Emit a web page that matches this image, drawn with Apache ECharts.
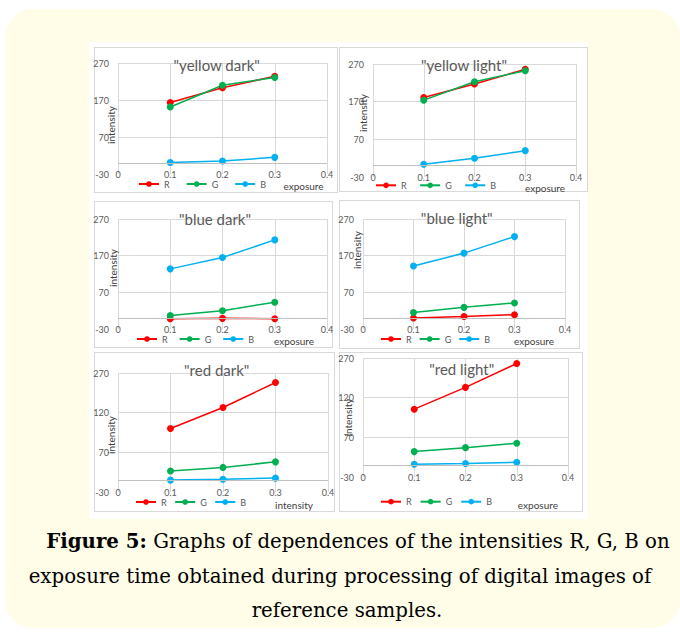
<!DOCTYPE html>
<html><head><meta charset="utf-8">
<script src="https://cdn.jsdelivr.net/npm/echarts@6/dist/echarts.min.js"></script>
<style>
html,body{margin:0;padding:0;background:#fff;width:680px;height:632px;overflow:hidden;position:relative;}
#bg{position:absolute;left:5px;top:9px;width:675px;height:619px;border-radius:28px;background:#fffce8;}
#panel{position:absolute;left:89px;top:42px;width:499px;height:477px;background:#fff;}
.box{position:absolute;border:1px solid #d9d9d9;box-sizing:border-box;}
#chart{position:absolute;left:0;top:0;width:680px;height:632px;}
.cap{position:absolute;font-family:'DejaVu Serif',serif;font-size:20px;color:#000;white-space:nowrap;transform:translate(-50%,-50%);line-height:1.2;}
.cap b{font-weight:bold;}
</style></head>
<body>
<div id="bg"></div>
<div id="panel"></div>
<div class="box" style="left:94px;top:47px;width:244px;height:146px"></div>
<div class="box" style="left:339px;top:47px;width:249px;height:145px"></div>
<div class="box" style="left:94px;top:201px;width:239px;height:147px"></div>
<div class="box" style="left:339px;top:200px;width:241px;height:149px"></div>
<div class="box" style="left:94px;top:352px;width:241px;height:160px"></div>
<div class="box" style="left:339px;top:352px;width:244px;height:160px"></div>
<div id="chart"></div>
<div class="cap" id="cap1" style="left:358px;top:542px"><b>Figure 5:</b> Graphs of dependences of the intensities R, G, B on</div>
<div class="cap" id="cap2" style="left:340px;top:577px">exposure time obtained during processing of digital images of</div>
<div class="cap" id="cap3" style="left:347px;top:611px">reference samples.</div>
<script>
// ---- data ----
const exposure = [0.1, 0.2, 0.3];
const xTickLabels = ['0', '0.1', '0.2', '0.3', '0.4'];
const yTickLabelsTop = ['-30', '70', '170', '270'];
const yTickLabelsBottom = ['-30', '70', '120', '270'];
const titles = ['"yellow dark"', '"yellow light"', '"blue dark"', '"blue light"', '"red dark"', '"red light"'];
const xNames = ['exposure', 'exposure', 'exposure', 'exposure', 'intensity', 'exposure'];
const yName = 'intensity';
const seriesNames = ['R', 'G', 'B'];

const yellowDarkR = [163, 203, 234];
const yellowDarkG = [151, 210, 231];
const yellowDarkB = [1, 5, 15];
const yellowLightR = [181, 217, 256];
const yellowLightG = [174, 223, 252];
const yellowLightB = [4, 20, 40];
const blueDarkR = [-2, -1, -2];
const blueDarkG = [7, 20, 43];
const blueDarkB = [134, 165, 213];
const blueLightR = [0, 4, 9];
const blueLightG = [15, 29, 41];
const blueLightB = [142, 177, 222];
const redDarkR = [130, 183, 246];
const redDarkG = [23, 32, 46];
const redDarkB = [0, 2, 5];
const redLightR = [141, 196, 256];
const redLightG = [34, 44, 55];
const redLightB = [2, 4, 7];

const panels = [
  [yellowDarkR, yellowDarkG, yellowDarkB],
  [yellowLightR, yellowLightG, yellowLightB],
  [blueDarkR, blueDarkG, blueDarkB],
  [blueLightR, blueLightG, blueLightB],
  [redDarkR, redDarkG, redDarkB],
  [redLightR, redLightG, redLightB]
];
const yTickSets = [yTickLabelsTop, yTickLabelsTop, yTickLabelsTop, yTickLabelsTop, yTickLabelsBottom, yTickLabelsBottom];

// ---- layout / style ----
const colors = ['#ff0000', '#00b050', '#00b0f0'];
const FONT = 'Lato';
const TXT = '#595959';
const grids = [
  {left: 118, top: 63, width: 209, height: 111},
  {left: 373, top: 64, width: 203, height: 113},
  {left: 118, top: 219, width: 209, height: 110},
  {left: 363, top: 219, width: 202, height: 110},
  {left: 118, top: 373, width: 210, height: 119},
  {left: 363, top: 358, width: 205, height: 119}
];
const titlePos = [[216.7, 65], [464, 65], [215, 219], [456.7, 218.3], [216.7, 370], [461.7, 369.3]];
const yNameLayout = [[7.3, 6.5], [10.3, -7.5], [5, -6], [6.3, -24], [7.3, 2.5], [15, 0]];
// [horizontal shift of the name centre from grid centre, distance below the grid bottom]
const xNameLayout = [[81, 12], [70.5, 10.5], [71.5, 12.4], [70, 12.4], [71, 13], [72.4, 28]];
const legendLayout = [[138, 184, 16], [375, 185.3, 12.5], [136, 339, 11], [380, 339, 7], [135, 502, 7.5], [380, 501.7, 8]];

const option = {
  animation: false,
  backgroundColor: 'transparent',
  title: [], legend: [], grid: [], xAxis: [], yAxis: [], series: []
};

panels.forEach((p, k) => {
  option.grid.push(Object.assign({containLabel: false}, grids[k]));
  option.title.push({
    text: titles[k], left: titlePos[k][0], top: titlePos[k][1] - 8.5, textAlign: 'center', padding: 0,
    textStyle: {fontFamily: FONT, fontSize: 15, fontWeight: 'normal', color: TXT, lineHeight: 17}
  });
  const lg = legendLayout[k];
  option.legend.push({
    data: seriesNames, left: lg[0], top: lg[1] - 4.5, itemWidth: 20, itemHeight: 7, itemGap: lg[2], padding: 0,
    textStyle: {fontFamily: FONT, fontSize: 9, color: TXT, lineHeight: 9}
  });
  const xn = xNameLayout[k];
  option.xAxis.push({
    type: 'value', gridIndex: k, min: 0, max: 0.4, interval: 0.1,
    name: xNames[k], nameLocation: 'middle', nameGap: xn[1], nameMoveOverlap: false,
    nameTextStyle: {fontFamily: FONT, fontSize: 10, lineHeight: 10, color: '#404040', align: 'center', verticalAlign: 'middle', padding: [0, 0, 0, 2 * xn[0]]},
    axisLine: {show: false, onZero: false}, axisTick: {show: false},
    axisLabel: {fontFamily: FONT, fontSize: 9, lineHeight: 9, color: TXT, margin: -4.5, formatter: (v, i) => xTickLabels[i]},
    splitLine: {show: true, lineStyle: {color: '#d9d9d9', width: 1}}
  });
  const yn = yNameLayout[k];
  const ticks = yTickSets[k];
  const pad = yn[1] >= 0 ? [0, 2 * yn[1], 0, 0] : [0, 0, 0, -2 * yn[1]];
  option.yAxis.push({
    type: 'value', gridIndex: k, min: -30, max: 270, interval: 100,
    name: yName, nameLocation: 'middle', nameGap: yn[0], nameRotate: 90, nameMoveOverlap: false,
    nameTextStyle: {fontFamily: FONT, fontSize: 10, color: '#404040', align: 'center', verticalAlign: 'middle', padding: pad},
    axisLine: {show: false}, axisTick: {show: false},
    axisLabel: {fontFamily: FONT, fontSize: 9, color: TXT, margin: 9, formatter: (v, i) => ticks[i]},
    splitLine: {show: true, showMinLine: false, lineStyle: {color: '#d9d9d9', width: 1}}
  });
  p.forEach((vals, s) => {
    const ser = {
      name: seriesNames[s], type: 'line', xAxisIndex: k, yAxisIndex: k,
      data: exposure.map((x, i) => [x, vals[i]]),
      symbol: 'circle', symbolSize: 7,
      lineStyle: {color: colors[s], width: 1.5},
      itemStyle: {color: colors[s]}
    };
    if (s === 0) {
      ser.markLine = {silent: true, symbol: 'none', label: {show: false}, animation: false,
        lineStyle: {color: '#bfbfbf', type: 'solid', width: 1}, data: [{yAxis: 0}]};
    }
    option.series.push(ser);
  });
});

const chart = echarts.init(document.getElementById('chart'), null, {renderer: 'svg'});
chart.setOption(option);

// fit caption width to the reference line width
const c2 = document.getElementById('cap2');
const w = c2.getBoundingClientRect().width;
const fs = 20 * 623 / w;
document.querySelectorAll('.cap').forEach(el => { el.style.fontSize = fs.toFixed(2) + 'px'; });
</script>
</body></html>
